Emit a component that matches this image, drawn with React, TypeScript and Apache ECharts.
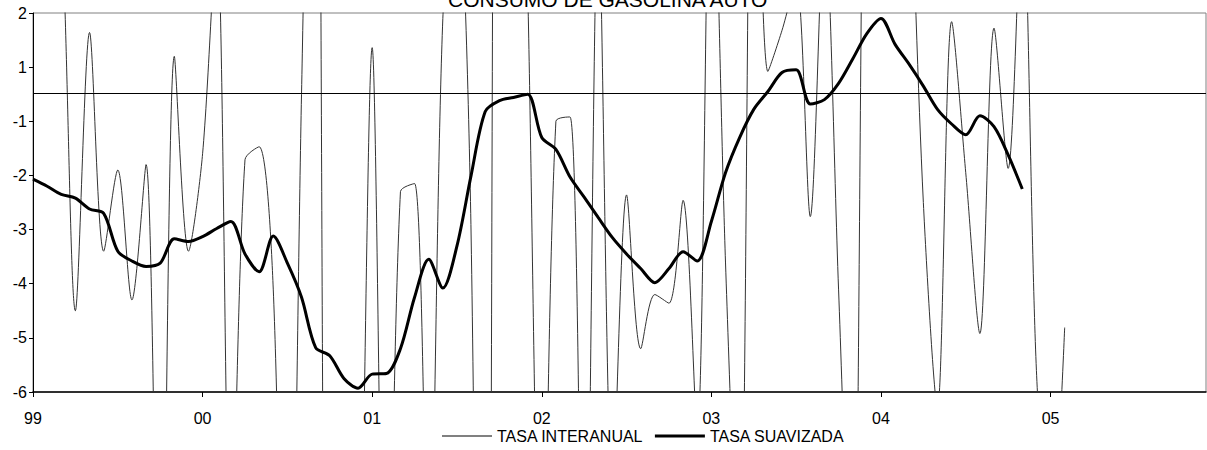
import React, { useEffect, useRef } from "react";
import * as echarts from "echarts";

// Monthly categories, Jan 1999 .. Dec 2005
const yearLabels = ["99", "00", "01", "02", "03", "04", "05"];
const months = yearLabels.flatMap((y) =>
  Array.from({ length: 12 }, (_, m) => `${y}-${String(m + 1).padStart(2, "0")}`)
);

// Y axis: 8 evenly spaced ticks (axis positions -6..1) labelled as in the original
const yTickLabels = ["-6", "-5", "-4", "-3", "-2", "-1", "1", "2"];
// horizontal reference line (in axis-position units)
const zeroLine = -0.48;

// Values in axis-position units (the chart clips everything outside -6..1)
const tasaInteranual = [
  4, 5, 2.8, -4.5, 0.64, -3.4, -1.9, -4.3, -1.8, -12.5, 0.2, -3.4,
  -1.6, 2.5, -9.5, -1.71, -1.47, -4.1, -14, -0.5, 12, -18, -17, -12,
  0.36, -12.5, -2.3, -2.15, -10, 0.9, 3.5, -3.1, -28, 20, 12, 1.5,
  -11, -1.0, -0.92, -12, 3, -8, -2.36, -5.2, -4.2, -4.36, -2.46, -6.8,
  5.2, -3.6, -10, 8, -0.08, 0.68, 1.6, -2.76, 2.8, -4.1, -11, 9,
  12, 10, 4.4, -2.5, -6.3, 0.84, -1.95, -4.92, 0.72, -1.87, 3.2, -5.6,
  -9, -4.81,
];

const tasaSuavizada = [
  -2.07, -2.2, -2.35, -2.42, -2.62, -2.7, -3.4, -3.58, -3.68, -3.62, -3.17, -3.22,
  -3.13, -2.98, -2.85, -3.45, -3.78, -3.12, -3.62, -4.25, -5.18, -5.33, -5.75, -5.93,
  -5.67, -5.66, -5.2, -4.25, -3.55, -4.08, -3.3, -2.0, -0.82, -0.62, -0.56, -0.5,
  -1.3, -1.52, -2.03, -2.4, -2.78, -3.15, -3.45, -3.72, -3.98, -3.72, -3.41, -3.58,
  -2.85, -1.95, -1.3, -0.78, -0.45, -0.1, -0.05, -0.68, -0.6, -0.3, 0.15, 0.62,
  0.9, 0.42, 0.05, -0.35, -0.78, -1.05, -1.25, -0.9, -1.1, -1.62, -2.25,
];

const FONT = "'Liberation Sans', Arial, sans-serif";
const TRANSPARENT = "rgba(0,0,0,0)";

export default function App() {
  const ref = useRef<HTMLDivElement>(null);

  useEffect(() => {
    if (!ref.current) return;
    const chart = echarts.init(ref.current, null, { renderer: "svg" });
    chart.setOption({
      animation: false,
      textStyle: { fontFamily: FONT },
      title: {
        text: "CONSUMO DE GASOLINA AUTO",
        left: 448,
        top: -11,
        padding: 0,
        textStyle: {
          fontSize: 21,
          fontWeight: "normal",
          color: "#000",
          fontFamily: FONT,
        },
      },
      legend: {
        left: 441,
        top: 428,
        padding: 0,
        itemWidth: 50,
        itemHeight: 14,
        itemGap: 10,
        textStyle: { fontSize: 16, color: "#000", fontFamily: FONT },
        data: [
          {
            name: "TASA INTERANUAL",
            lineStyle: { color: "#808080", width: 2 },
            itemStyle: { color: TRANSPARENT, borderWidth: 0, opacity: 0 },
          },
          {
            name: "TASA SUAVIZADA",
            lineStyle: { color: "#000", width: 3 },
            itemStyle: { color: TRANSPARENT, borderWidth: 0, opacity: 0 },
          },
        ],
      },
      grid: {
        left: 33,
        right: 1,
        top: 13,
        bottom: 58,
        show: true,
        borderColor: "#808080",
        borderWidth: 1,
        containLabel: false,
      },
      xAxis: {
        type: "category",
        data: months,
        boundaryGap: false,
        axisLine: { onZero: false, lineStyle: { color: "#000", width: 1.5 } },
        axisTick: {
          show: true,
          length: 5,
          inside: false,
          interval: (index: number) => index % 12 === 0,
          lineStyle: { color: "#000" },
        },
        axisLabel: {
          interval: (index: number) => index % 12 === 0,
          formatter: (_v: string, index: number) =>
            index % 12 === 0 ? yearLabels[index / 12] : "",
          fontSize: 16,
          color: "#000",
          margin: 18,
          fontFamily: FONT,
        },
        splitLine: { show: false },
      },
      yAxis: {
        type: "value",
        min: -6,
        max: 1,
        interval: 1,
        axisLine: { show: true, lineStyle: { color: "#000", width: 1 } },
        axisTick: { show: true, length: 4, lineStyle: { color: "#000" } },
        axisLabel: {
          formatter: (v: number) => yTickLabels[Math.round(v) + 6] ?? "",
          fontSize: 16,
          color: "#000",
          margin: 6,
          fontFamily: FONT,
        },
        splitLine: { show: false },
      },
      series: [
        {
          name: "TASA INTERANUAL",
          type: "line",
          data: tasaInteranual,
          smooth: 0.3,
          symbol: "none",
          clip: true,
          lineStyle: { color: "#333", width: 1 },
          itemStyle: { color: "#808080" },
          markLine: {
            silent: true,
            symbol: ["none", "none"],
            label: { show: false },
            lineStyle: { color: "#000", width: 1, type: "solid" },
            data: [{ yAxis: zeroLine }],
          },
          z: 2,
        },
        {
          name: "TASA SUAVIZADA",
          type: "line",
          data: tasaSuavizada,
          smooth: 0.3,
          symbol: "none",
          clip: true,
          lineStyle: { color: "#000", width: 3 },
          itemStyle: { color: "#000" },
          z: 3,
        },
      ],
    });
    return () => chart.dispose();
  }, []);

  return (
    <div
      ref={ref}
      style={{ position: "absolute", left: 0, top: 0, width: 1207, height: 450 }}
    />
  );
}
